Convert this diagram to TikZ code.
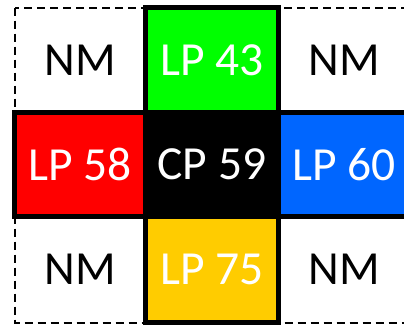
\documentclass[tikz,border=0pt]{standalone}
\usepackage{fontspec}
\setmainfont{Carlito}
\definecolor{cgreen}{RGB}{0,255,0}
\definecolor{cred}{RGB}{255,0,0}
\definecolor{cblue}{RGB}{0,102,255}
\definecolor{cyellow}{RGB}{255,204,0}
\tikzset{
  cell/.style={rectangle, inner sep=0pt, outer sep=0pt, font=\fontsize{47.5}{47.5}\selectfont},
  lp/.style={cell, draw=black, line width=5pt, text=white},
  nm/.style={cell, text=black},
  outerbox/.style={draw=black, line width=2pt, dash pattern=on 8pt off 5pt},
}
\begin{document}
\begin{tikzpicture}[x=1pt,y=-1pt]
\useasboundingbox (0,0) rectangle (404,325);
\clip (0,0) rectangle (404,325);
% empty cells
\node[nm, minimum width=131pt, minimum height=105pt] (tl) at (80,60) {NM};
\node[nm, minimum width=131.5pt, minimum height=105pt] (tr) at (344.25,60) {NM};
\node[nm, minimum width=131pt, minimum height=106pt] (bl) at (80,269.5) {NM};
\node[nm, minimum width=131.5pt, minimum height=106pt] (br) at (344.25,269.5) {NM};
\draw[outerbox] (tl.north west) rectangle (br.south east);
% coloured cells
\node[lp, fill=cgreen, minimum width=133pt, minimum height=105pt] (top) at (212,60) {LP 43};
\node[lp, fill=cyellow, minimum width=133pt, minimum height=106pt] (bot) at (212,269.5) {LP 75};
\node[lp, fill=cred, minimum width=131pt, minimum height=104pt] (left) at (80,164.5) {LP 58};
\node[lp, fill=cblue, minimum width=131.5pt, minimum height=104pt] (right) at (344.25,164.5) {LP 60};
\node[lp, fill=black, minimum width=133pt, minimum height=104pt] (mid) at (212,164.5) {CP 59};
\end{tikzpicture}
\end{document}
